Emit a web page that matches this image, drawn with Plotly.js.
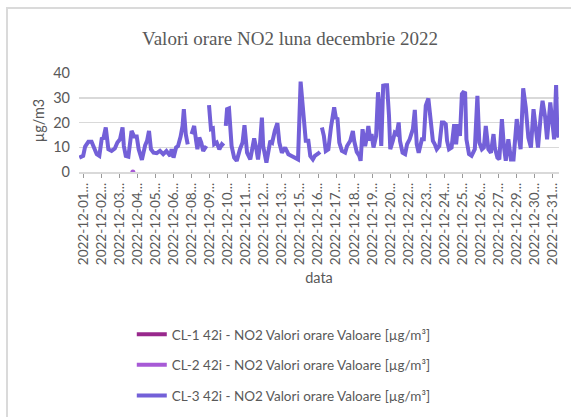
<!DOCTYPE html>
<html>
<head>
<meta charset="utf-8">
<script src="https://cdn.plot.ly/plotly-3.0.1.min.js"></script>
<style>
  html, body { margin: 0; padding: 0; background: #ffffff; }
  #frame { position: absolute; left: 6px; top: 7px; width: 700px; height: 500px; border: 2px solid #dadada; box-sizing: border-box; }
  #chart { position: absolute; left: 0; top: 0; width: 571px; height: 417px; }
</style>
</head>
<body>
<div id="frame"></div>
<div id="chart"></div>
<script>
// Tick labels (every 28th hourly category, truncated as in the source)
const tickLabels = [
  '2022-12-01...', '2022-12-02...', '2022-12-03...', '2022-12-04...', '2022-12-05...',
  '2022-12-06...', '2022-12-08...', '2022-12-09...', '2022-12-10...', '2022-12-11...',
  '2022-12-12...', '2022-12-13...', '2022-12-15...', '2022-12-16...', '2022-12-17...',
  '2022-12-18...', '2022-12-19...', '2022-12-20...', '2022-12-22...', '2022-12-23...',
  '2022-12-24...', '2022-12-25...', '2022-12-26...', '2022-12-27...', '2022-12-29...',
  '2022-12-30...', '2022-12-31...'
];

const seriesNames = [
  'CL-1 42i - NO2 Valori orare Valoare [µg/m³]',
  'CL-2 42i - NO2 Valori orare Valoare [µg/m³]',
  'CL-3 42i - NO2 Valori orare Valoare [µg/m³]'
];
const yTitle = 'µg/m3';
const xTitle = 'data';
const chartTitle = 'Valori orare NO2 luna decembrie 2022';

// CL-1: no valid data in December
const cl1Hours = [0];
const cl1Values = [null];

// CL-2: a single reading
const cl2Hours = [83];
const cl2Values = [0];

// CL-3: hourly index (0 = first hour of December) and values (null = gap)
const cl3Hours = [
  0, 6, 9, 14, 19, 22, 27, 31, 35, 37, 41, 45, 50, 55, 59, 63, 67, 69, 72, 76,
  81, 85, 89, 92, 97, 102, 105, 108, 111, 115, 120, 125, 130, 135, 141, 143, 146, 150, 153, 157,
  160, 162, 165, 168, 171, 174, 178, 181, 183, 186, 189, 192, 197, 199, 201, 204, 207, 209, 213, 217,
  221, 224, 226, 227, 229, 232, 234, 236, 240, 244, 249, 253, 256, 258, 260, 265, 268, 271, 274, 277,
  280, 283, 285, 290, 296, 299, 303, 307, 310, 314, 319, 324, 329, 334, 339, 343, 346, 349, 351, 355,
  358, 362, 365, 370, 373, 375, 376, 379, 382, 386, 390, 393, 395, 398, 400, 403, 407, 412, 415, 420,
  424, 426, 430, 434, 436, 439, 443, 445, 448, 451, 453, 456, 460, 463, 465, 468, 471, 474, 477, 480,
  482, 486, 489, 492, 495, 497, 501, 505, 508, 512, 517, 520, 523, 526, 531, 534, 537, 541, 545, 548,
  551, 554, 558, 562, 565, 568, 570, 573, 577, 581, 584, 587, 590, 593, 595, 598, 600, 604, 608, 613,
  617, 620, 624, 627, 630, 634, 638, 642, 644, 648, 651, 655, 658, 661, 665, 669, 673, 678, 681, 684,
  688, 692, 696, 700, 704, 708, 711, 715, 718, 722, 725, 730, 733, 736, 739, 741, 743
];
const cl3Values = [
  5.8, 6.5, 10.3, 12.2, 12.2, 10.3, 7.2, 6.5, 13.9, 13.2, 18.0, 9.2, 8.5, 9.5, 11.9, 13.2, 18.0, 10.5, 6.5, 6.2,
  16.6, 14.3, 14.3, 9.2, 4.9, 10.8, 12.6, 16.6, 9.2, 7.8, 7.6, 8.5, 7.2, 8.5, 6.5, 9.2, 5.8, 9.9, 10.5, 14.3,
  18.6, 25.4, 15.3, 11.2, null, 15.3, 18.6, 12.6, 9.2, 13.9, 11.9, 8.5, 10.5, null, 27.0, 17.3, 17.6, 11.2, 11.9, 9.2,
  11.2, 10.5, null, 18.6, 25.4, 25.7, 20.0, 10.5, 5.8, 4.5, 9.2, 11.9, 18.9, 12.6, 7.8, 5.1, 9.2, 13.6, 9.9, 5.1,
  11.2, 22.0, 10.5, 3.8, 12.6, 11.9, 16.6, 19.7, 11.9, 7.8, 9.9, 7.2, 6.5, 5.8, 5.1, 36.5, 25.4, 16.6, 12.6, 12.6,
  6.5, 5.1, 6.5, 7.4, 8.1, null, 18.0, 14.6, 8.5, 9.2, 18.0, 23.4, 26.1, 21.4, 22.0, 11.9, 8.5, 7.8, 10.5, 12.6,
  16.6, 12.6, 8.1, 6.5, 4.5, 17.3, 10.5, 13.2, 18.6, 12.6, 15.3, 9.9, 14.6, 32.2, 26.8, 10.5, 34.9, 35.1, 35.1, 22.7,
  9.2, 12.6, 15.9, 15.3, 20.0, 12.6, 7.8, 7.2, 11.2, 13.2, 17.3, 25.1, 11.2, 7.8, 13.2, 13.2, 26.8, 29.7, 20.0, 12.6,
  11.2, 9.2, 10.5, 20.0, 20.0, 19.3, 12.6, 9.2, 9.9, 19.3, 11.2, 19.3, 14.6, 31.5, 32.2, 31.9, 13.2, 7.2, 6.5, 9.2,
  30.8, 11.9, 9.2, 9.9, 18.6, 9.2, 7.8, 15.3, 9.9, 5.8, 5.1, 21.4, 10.5, 4.5, 13.2, 5.1, 5.1, 21.4, 14.6, 9.2,
  33.8, 26.1, 13.9, 9.9, 25.4, 16.6, 9.9, 22.2, 28.8, 22.2, 13.2, 28.1, 19.3, 13.2, 35.1, 15.9, 13.9
];

const totalHours = 744;     // hourly categories in December
const labelStep = 28;       // one label every 28 categories
const labelOffset = 6;

const colors = ['#98288c', '#a75ad6', '#7360d8'];
const txt = '#595959';
const fontFam = 'Lato, "Open Sans", sans-serif';

const tickVals = tickLabels.map((_, i) => labelOffset + i * labelStep);

const traces = [
  { x: cl1Hours, y: cl1Values, name: seriesNames[0], type: 'scatter', mode: 'lines',
    line: { color: colors[0], width: 4 }, legendgroup: 'g1' },
  { x: cl2Hours, y: cl2Values, name: seriesNames[1], type: 'scatter', mode: 'lines',
    line: { color: colors[1], width: 4 }, legendgroup: 'g2' },
  { x: cl2Hours, y: cl2Values, name: seriesNames[1], type: 'scatter', mode: 'markers',
    marker: { color: colors[1], size: 5 }, legendgroup: 'g2', showlegend: false, hoverinfo: 'skip' },
  { x: cl3Hours, y: cl3Values, name: seriesNames[2], type: 'scatter', mode: 'lines',
    line: { color: colors[2], width: 4, shape: 'linear' }, connectgaps: false, legendgroup: 'g3' }
];

const layout = {
  width: 571, height: 417,
  paper_bgcolor: 'rgba(0,0,0,0)', plot_bgcolor: 'rgba(0,0,0,0)',
  margin: { l: 79, r: 12, t: 73, b: 245, autoexpand: false },
  font: { family: fontFam, color: txt, size: 13 },
  title: {
    text: chartTitle,
    font: { family: '"Liberation Serif", "Times New Roman", serif', size: 19, color: txt },
    xref: 'container', x: 0.508, xanchor: 'center',
    yref: 'container', y: 0.909, yanchor: 'middle'
  },
  xaxis: {
    type: 'linear', range: [-0.5, totalHours - 0.5],
    tickvals: tickVals, ticktext: tickLabels, tickangle: -90,
    tickfont: { family: fontFam, size: 13.5, color: txt },
    ticks: 'outside', ticklen: 4, tickcolor: '#9a9a9a', tickwidth: 1,
    showgrid: false, zeroline: false,
    showline: true, linecolor: '#d9d9d9', linewidth: 1.5,
    title: { text: xTitle, font: { family: fontFam, size: 14.5, color: txt }, standoff: 8 },
    automargin: false
  },
  yaxis: {
    range: [0, 40], tickvals: [0, 10, 20, 30, 40],
    tickfont: { family: fontFam, size: 14.5, color: txt },
    ticks: '', ticklabelstandoff: 8,
    showgrid: true, gridcolor: '#d9d9d9', gridwidth: 1.5,
    zeroline: false, showline: false,
    automargin: false
  },
  annotations: [{
    text: yTitle, xref: 'paper', yref: 'paper', x: -0.084, y: 0.52,
    xanchor: 'center', yanchor: 'middle', textangle: -90, showarrow: false,
    font: { family: fontFam, size: 14.5, color: txt }
  }],
  showlegend: true,
  legend: {
    orientation: 'v', xref: 'container', yref: 'container',
    x: 0.497, xanchor: 'center', y: 0.235, yanchor: 'top',
    font: { family: fontFam, size: 13.5, color: txt },
    tracegroupgap: 10, itemwidth: 30, traceorder: 'grouped'
  }
};

Plotly.newPlot('chart', traces, layout, { displayModeBar: false, staticPlot: true });
</script>
</body>
</html>
